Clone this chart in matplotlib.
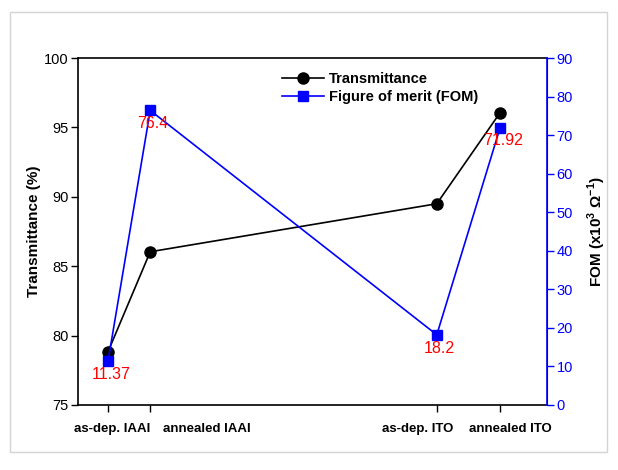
import matplotlib
matplotlib.use("Agg")
import matplotlib.pyplot as plt
from matplotlib.patches import Rectangle

plt.rcParams['font.family'] = ['Liberation Sans', 'DejaVu Sans']
plt.rcParams['mathtext.fontset'] = 'custom'
plt.rcParams['mathtext.rm'] = 'Liberation Sans'
plt.rcParams['mathtext.bf'] = 'Liberation Sans:bold'

# data
samples = ['as-dep. IAAI', 'annealed IAAI', 'as-dep. ITO', 'annealed ITO']
x_pos = [0.64, 1.54, 7.65, 9.0]
label_pos = [0.72, 2.75, 7.25, 9.21]
transmittance = [78.84, 86.04, 89.5, 96.06]
fom = [11.37, 76.4, 18.2, 71.92]
fom_labels = ['11.37', '76.4', '18.2', '71.92']

fig = plt.figure(figsize=(6.18, 4.70), dpi=100)
ax = fig.add_axes([78/618, 1-405/470, 469/618, 347/470])
ax2 = ax.twinx()

l1, = ax.plot(x_pos, transmittance, '-o', color='black', lw=1.2, ms=8,
              label='Transmittance')
l2, = ax2.plot(x_pos, fom, '-s', color='#0000ff', lw=1.2, ms=7.5,
               label='Figure of merit (FOM)')

for xv, yv, s in zip(x_pos, fom, fom_labels):
    ax2.annotate(s, (xv, yv), xytext=(2, -9.5), textcoords='offset points',
                 ha='center', va='center', color='#ff0000', fontsize=11.5)

ax.set_xlim(0, 10)
ax.set_ylim(75, 100)
ax.set_yticks([75, 80, 85, 90, 95, 100])
ax2.set_ylim(0, 90)
ax2.set_yticks(range(0, 91, 10))

# ticks at data points, names on minor ticks
ax.set_xticks(x_pos)
ax.set_xticklabels([])
ax.set_xticks(label_pos, minor=True)
ax.set_xticklabels(samples, minor=True, fontsize=9.5, fontweight='bold')
ax.tick_params(axis='x', which='minor', length=0, pad=13)
ax.tick_params(axis='x', which='major', direction='out', length=5, width=1)
ax.tick_params(axis='y', direction='out', length=5, width=1, labelsize=10.5, pad=2)
ax2.tick_params(axis='y', direction='out', length=5, width=1, labelsize=10.5,
                pad=2, colors='#0000ff')

for sp in ['left', 'top', 'bottom']:
    ax.spines[sp].set_linewidth(1.2)
ax2.spines['right'].set_color('#0000ff')
ax2.spines['right'].set_linewidth(1.2)
ax2.spines['left'].set_visible(False)
ax2.spines['top'].set_visible(False)
ax2.spines['bottom'].set_visible(False)

ax.set_ylabel('Transmittance (%)', fontsize=11, fontweight='bold', labelpad=2)
ax2.set_ylabel(r'FOM (x10$^{\mathbf{3}}$ $\mathbf{\Omega^{-1}}$)', fontsize=11,
               fontweight='bold', labelpad=9)

ax.legend([l1, l2], ['Transmittance', 'Figure of merit (FOM)'],
          loc='upper left', bbox_to_anchor=(0.435, 0.96), frameon=False,
          prop={'weight': 'bold', 'size': 10.5}, handlelength=2.9,
          handletextpad=0.3, labelspacing=0.3, borderpad=0, borderaxespad=0)

fig.patches.append(Rectangle((10/618, 1-452/470), 597/618, 440/470,
                             transform=fig.transFigure, fill=False,
                             edgecolor='#d4d4d4', lw=1))

fig.savefig('out.png', dpi=100)
